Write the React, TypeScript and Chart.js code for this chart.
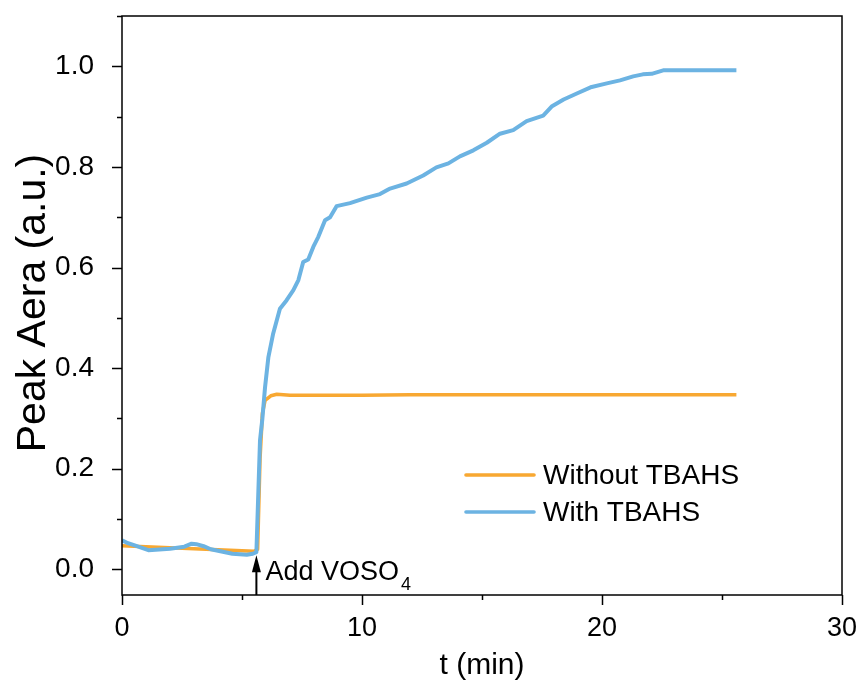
import React, { useEffect, useRef } from 'react';
import { Chart, registerables } from 'chart.js';

Chart.register(...registerables);

// ---- data ----
const seriesLabels = ['Without TBAHS', 'With TBAHS'];
const seriesColors = ['#F8A832', '#6CB3E2'];

const tWithout = [0, 0.5, 1, 1.5, 2, 2.5, 3, 3.5, 4, 4.5, 5, 5.5, 5.65, 5.75, 5.85, 5.96, 6.2, 6.45, 7, 8, 10, 12, 14, 16, 18, 20, 22, 24, 25.6];
const vWithout = [0.047, 0.046, 0.045, 0.044, 0.043, 0.042, 0.041, 0.04, 0.039, 0.038, 0.037, 0.036, 0.04, 0.22, 0.31, 0.336, 0.345, 0.348, 0.346, 0.346, 0.346, 0.347, 0.347, 0.347, 0.347, 0.347, 0.347, 0.347, 0.347];

const tWith = [0, 0.25, 0.5, 0.8, 1.1, 1.4, 1.7, 2.0, 2.3, 2.6, 2.9, 3.1, 3.4, 3.7, 4.0, 4.3, 4.6, 4.9, 5.2, 5.45, 5.6, 5.75, 5.85, 5.96, 6.1, 6.3, 6.58, 6.86, 7.14, 7.35, 7.55, 7.76, 7.97, 8.18, 8.46, 8.67, 8.94, 9.5, 10.2, 10.75, 11.17, 11.86, 12.55, 13.1, 13.6, 14.08, 14.64, 15.2, 15.75, 16.3, 16.86, 17.55, 17.9, 18.4, 18.95, 19.57, 20.2, 20.75, 21.3, 21.7, 22.07, 22.55, 25.6];
const vWith = [0.058, 0.052, 0.048, 0.043, 0.038, 0.039, 0.04, 0.041, 0.043, 0.045, 0.051, 0.05, 0.046, 0.04, 0.037, 0.034, 0.031, 0.03, 0.029, 0.031, 0.034, 0.256, 0.3, 0.362, 0.422, 0.469, 0.518, 0.535, 0.555, 0.575, 0.611, 0.616, 0.641, 0.661, 0.694, 0.7, 0.722, 0.728, 0.739, 0.746, 0.757, 0.767, 0.783, 0.799, 0.807, 0.821, 0.833, 0.848, 0.866, 0.873, 0.891, 0.902, 0.92, 0.934, 0.946, 0.959, 0.966, 0.972, 0.98, 0.984, 0.985, 0.992, 0.992];

const xTicks = [0, 10, 20, 30];
const xMinorTicks = [5, 15, 25];
const yTicks = [0, 0.2, 0.4, 0.6, 0.8, 1.0];
const yMinorTicks = [0.1, 0.3, 0.5, 0.7, 0.9, 1.1];
const xTitle = 't (min)';
const yTitle = 'Peak Aera (a.u.)';
const annotationText = 'Add VOSO';
const annotationSub = '4';
const annotationT = 5.6;
const annotationV = 0.028;

const FONT = '"Liberation Sans", Arial, Helvetica, sans-serif';

const decorPlugin = {
  id: 'decor',
  afterDraw(chart: any) {
    const { ctx, chartArea: a, scales } = chart;
    const x = scales.x;
    const y = scales.y;
    ctx.save();
    // frame
    ctx.strokeStyle = '#000';
    ctx.lineWidth = 1.5;
    ctx.strokeRect(a.left, a.top, a.right - a.left, a.bottom - a.top);
    // tick marks
    ctx.beginPath();
    xTicks.forEach((v) => {
      const px = Math.round(x.getPixelForValue(v)) + 0.5;
      ctx.moveTo(px, a.bottom);
      ctx.lineTo(px, a.bottom + 10);
    });
    xMinorTicks.forEach((v) => {
      const px = Math.round(x.getPixelForValue(v)) + 0.5;
      ctx.moveTo(px, a.bottom);
      ctx.lineTo(px, a.bottom + 5);
    });
    yTicks.forEach((v) => {
      const py = Math.round(y.getPixelForValue(v)) + 0.5;
      ctx.moveTo(a.left, py);
      ctx.lineTo(a.left - 10, py);
    });
    yMinorTicks.forEach((v) => {
      const py = Math.round(y.getPixelForValue(v)) + 0.5;
      ctx.moveTo(a.left, py);
      ctx.lineTo(a.left - 5, py);
    });
    ctx.stroke();

    // axis titles
    ctx.fillStyle = '#000';
    ctx.font = `30px ${FONT}`;
    ctx.textAlign = 'center';
    ctx.textBaseline = 'alphabetic';
    ctx.fillText(xTitle, (a.left + a.right) / 2, 674);

    ctx.save();
    ctx.translate(45, 303);
    ctx.rotate(-Math.PI / 2);
    ctx.font = `41px ${FONT}`;
    ctx.fillText(yTitle, 0, 0);
    ctx.restore();

    // annotation arrow
    const ax = x.getPixelForValue(annotationT);
    const tipY = y.getPixelForValue(annotationV);
    ctx.strokeStyle = '#000';
    ctx.lineWidth = 2;
    ctx.beginPath();
    ctx.moveTo(ax, a.bottom);
    ctx.lineTo(ax, tipY + 10);
    ctx.stroke();
    ctx.beginPath();
    ctx.moveTo(ax, tipY);
    ctx.lineTo(ax - 4.5, tipY + 17);
    ctx.lineTo(ax + 4.5, tipY + 17);
    ctx.closePath();
    ctx.fill();

    ctx.textAlign = 'left';
    ctx.font = `27px ${FONT}`;
    ctx.fillText(annotationText, ax + 9, 580);
    const w = ctx.measureText(annotationText).width;
    ctx.font = `18px ${FONT}`;
    ctx.fillText(annotationSub, ax + 9 + w + 2, 590);

    // legend
    const legendRows = [475, 512];
    chart.data.datasets.forEach((ds: any, i: number) => {
      const ly = legendRows[i];
      ctx.strokeStyle = ds.borderColor;
      ctx.lineWidth = 3.6;
      ctx.lineCap = 'round';
      ctx.beginPath();
      ctx.moveTo(466, ly);
      ctx.lineTo(534, ly);
      ctx.stroke();
      ctx.fillStyle = '#000';
      ctx.font = `28px ${FONT}`;
      ctx.textAlign = 'left';
      ctx.textBaseline = 'middle';
      ctx.fillText(ds.label, 543, ly + 1);
    });
    ctx.restore();
  },
};

const zeroPadding = (scale: any) => {
  scale.paddingTop = 0;
  scale.paddingBottom = 0;
  scale.paddingLeft = 0;
  scale.paddingRight = 0;
};

export default function App() {
  const canvasRef = useRef<HTMLCanvasElement | null>(null);

  useEffect(() => {
    document.body.style.margin = '0';
    const canvas = canvasRef.current;
    if (!canvas) return;
    const chart = new Chart(canvas, {
      type: 'line',
      data: {
        datasets: [
          {
            label: seriesLabels[0],
            data: tWithout.map((t, i) => ({ x: t, y: vWithout[i] })),
            borderColor: seriesColors[0],
            borderWidth: 3.6,
            pointRadius: 0,
            tension: 0,
            fill: false,
            order: 2,
            borderJoinStyle: 'round',
          },
          {
            label: seriesLabels[1],
            data: tWith.map((t, i) => ({ x: t, y: vWith[i] })),
            borderColor: seriesColors[1],
            borderWidth: 4,
            pointRadius: 0,
            tension: 0,
            fill: false,
            order: 1,
            borderJoinStyle: 'round',
          },
        ],
      },
      options: {
        animation: false,
        responsive: false,
        maintainAspectRatio: false,
        layout: { padding: { left: 0, top: 16, right: 18, bottom: 0 } },
        plugins: {
          legend: { display: false },
          tooltip: { enabled: false },
          title: { display: false },
        },
        scales: {
          x: {
            type: 'linear',
            min: 0,
            max: 30,
            grid: { display: false },
            border: { display: false },
            afterBuildTicks: (scale: any) => {
              scale.ticks = xTicks.map((v) => ({ value: v }));
            },
            afterFit: (scale: any) => {
              scale.height = 100;
              zeroPadding(scale);
            },
            ticks: {
              color: '#000',
              font: { family: FONT, size: 27 },
              padding: 9,
              maxRotation: 0,
              autoSkip: false,
              callback: (v: any) => String(v),
            },
          },
          y: {
            type: 'linear',
            min: -0.051,
            max: 1.1,
            grid: { display: false },
            border: { display: false },
            afterBuildTicks: (scale: any) => {
              scale.ticks = yTicks.map((v) => ({ value: v }));
            },
            afterFit: (scale: any) => {
              scale.width = 122;
              zeroPadding(scale);
            },
            ticks: {
              color: '#000',
              font: { family: FONT, size: 28 },
              padding: 20,
              autoSkip: false,
              callback: (v: any) => Number(v).toFixed(1),
            },
          },
        },
      },
      plugins: [decorPlugin],
    } as any);
    return () => chart.destroy();
  }, []);

  return (
    <div style={{ width: 860, height: 695, background: '#fff' }}>
      <canvas ref={canvasRef} width={860} height={695} style={{ display: 'block' }} />
    </div>
  );
}
